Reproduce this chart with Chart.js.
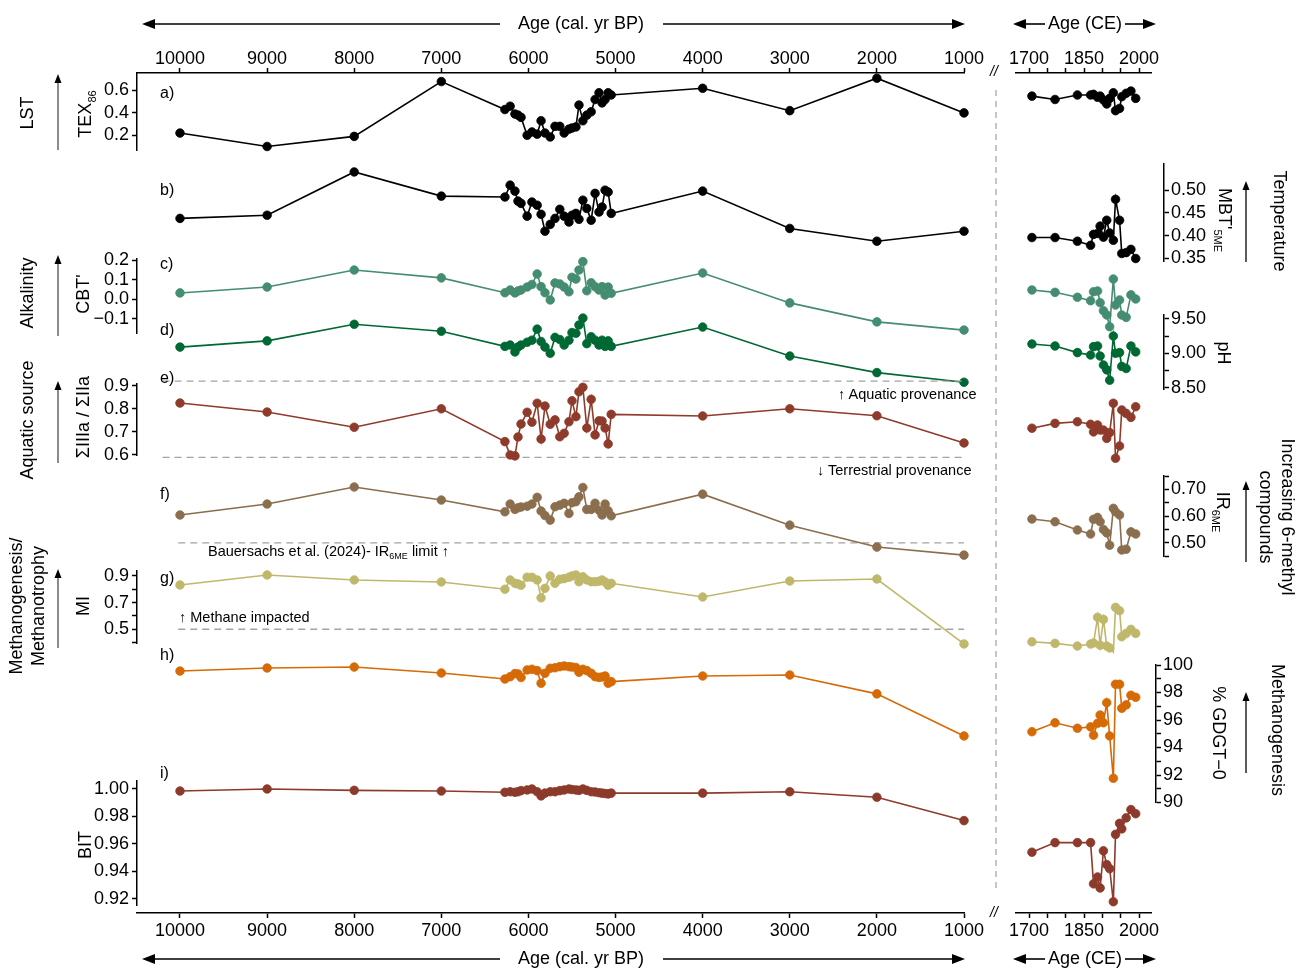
<!DOCTYPE html>
<html>
<head>
<meta charset="utf-8">
<title>GDGT proxy records – Holocene and last 300 years</title>
<script src="https://cdn.jsdelivr.net/npm/chart.js@4.4.1/dist/chart.umd.min.js"></script>
<style>
  html,body{margin:0;padding:0;background:#fff;}
  #fig{position:relative;width:1298px;height:968px;overflow:hidden;background:#fff;
       font-family:"Liberation Sans",Arial,Helvetica,sans-serif;color:#000;}
  #fig canvas{position:absolute;}
  #ov{position:absolute;left:0;top:0;z-index:2;}
  .t{position:absolute;white-space:nowrap;font-size:18px;line-height:1.2;z-index:3;}
  .l{transform:translate(-50%,-50%) rotate(-90deg);text-align:center;}
  .r{transform:translate(-50%,-50%) rotate(90deg);text-align:center;}
  .c{transform:translate(-50%,-50%);}
  .m{transform:translate(0,-50%);}
  .s{font-size:11px;position:relative;top:5px;}
  .note{font-size:14.5px;}
  .tag{font-size:16px;}
</style>
</head>
<body>
<div id="fig">
  <svg id="ov" width="1298" height="968"></svg>

  <!-- axis titles -->
  <div class="t c" style="left:581px;top:24px">Age (cal. yr BP)</div>
  <div class="t c" style="left:1085px;top:24px">Age (CE)</div>
  <div class="t c" style="left:581px;top:959px">Age (cal. yr BP)</div>
  <div class="t c" style="left:1085px;top:959px">Age (CE)</div>
  <div class="t c" style="left:994px;top:71px;font-size:14px;font-style:italic">//</div>
  <div class="t c" style="left:994px;top:912px;font-size:14px;font-style:italic">//</div>

  <!-- left-hand labels -->
  <div class="t l" style="left:28px;top:113px">LST</div>
  <div class="t l" style="left:86px;top:114px">TEX<span class="s">86</span></div>
  <div class="t l" style="left:28px;top:293px">Alkalinity</div>
  <div class="t l" style="left:84px;top:294px">CBT'</div>
  <div class="t l" style="left:28px;top:420px">Aquatic source</div>
  <div class="t l" style="left:84px;top:417px">ΣIIIa / ΣIIa</div>
  <div class="t l" style="left:27px;top:606px;line-height:22px">Methanogenesis/<br>Methanotrophy</div>
  <div class="t l" style="left:84px;top:606px">MI</div>
  <div class="t l" style="left:86px;top:845px">BIT</div>

  <!-- right-hand labels -->
  <div class="t r" style="left:1224px;top:220px">MBT'<span class="s">5ME</span></div>
  <div class="t r" style="left:1279px;top:221px">Temperature</div>
  <div class="t r" style="left:1223px;top:353px">pH</div>
  <div class="t r" style="left:1222px;top:512px">IR<span class="s">6ME</span></div>
  <div class="t r" style="left:1277px;top:517px;line-height:22px">Increasing 6-methyl<br>compounds</div>
  <div class="t r" style="left:1218px;top:733px">% GDGT−0</div>
  <div class="t r" style="left:1277px;top:730px">Methanogenesis</div>

  <!-- panel tags -->
  <div class="t m tag" style="left:160px;top:93px">a)</div>
  <div class="t m tag" style="left:160px;top:190px">b)</div>
  <div class="t m tag" style="left:160px;top:264px">c)</div>
  <div class="t m tag" style="left:160px;top:330px">d)</div>
  <div class="t m tag" style="left:160px;top:378px">e)</div>
  <div class="t m tag" style="left:160px;top:494px">f)</div>
  <div class="t m tag" style="left:160px;top:578px">g)</div>
  <div class="t m tag" style="left:160px;top:655px">h)</div>
  <div class="t m tag" style="left:160px;top:773px">i)</div>

  <!-- threshold notes -->
  <div class="t m note" style="left:838px;top:395px">↑ Aquatic provenance</div>
  <div class="t m note" style="left:817px;top:471px">↓ Terrestrial provenance</div>
  <div class="t m note" style="left:208px;top:552px">Bauersachs et al. (2024)- IR<span class="s" style="font-size:9px;top:3px">6ME</span> limit ↑</div>
  <div class="t m note" style="left:179px;top:618px">↑ Methane impacted</div>
</div>

<script>
// ---------------- sample ages ----------------
const agesBP = [10000, 9000, 8000, 7000,
  6270, 6210, 6155, 6120, 6085, 6015, 5960, 5900, 5855, 5810, 5750, 5695, 5640, 5590,
  5535, 5500, 5455, 5420, 5375, 5330, 5280, 5235, 5190, 5155, 5120, 5085, 5050,
  4000, 3000, 2000, 1000];
const agesCE = [1708, 1771, 1832, 1868, 1876, 1887, 1894, 1903, 1912, 1920, 1930, 1936, 1947, 1953, 1965, 1978, 1991];

// ---------------- proxy values (Holocene, cal. yr BP) ----------------
const tex86BP = [0.22, 0.10, 0.19, 0.68,
  0.43, 0.46, 0.39, 0.38, 0.36, 0.20, 0.23, 0.21, 0.33, 0.22, 0.185, 0.28, 0.28, 0.22,
  0.255, 0.265, 0.275, 0.47, 0.33, 0.38, 0.41, 0.52, 0.58, 0.49, 0.52, 0.58, 0.56,
  0.62, 0.42, 0.71, 0.40];
const mbtBP = [0.438, 0.445, 0.54, 0.487,
  0.485, 0.511, 0.498, 0.476, 0.471, 0.443, 0.474, 0.467, 0.447, 0.41, 0.425, 0.438, 0.458, 0.443,
  0.43, 0.445, 0.449, 0.436, 0.478, 0.46, 0.434, 0.493, 0.452, 0.463, 0.50, 0.496, 0.449,
  0.498, 0.416, 0.388, 0.41];
const cbtBP = [0.033, 0.063, 0.15, 0.11,
  0.034, 0.048, 0.033, 0.043, 0.048, 0.063, 0.076, 0.13, 0.065, 0.034, -0.003, 0.084, 0.079, 0.063,
  0.039, 0.113, 0.104, 0.15, 0.193, 0.044, 0.085, 0.065, 0.048, 0.065, 0.022, 0.063, 0.031,
  0.135, -0.018, -0.115, -0.157];
const phBP = [9.09, 9.18, 9.42, 9.32,
  9.10, 9.12, 9.02, 9.09, 9.12, 9.16, 9.19, 9.35, 9.17, 9.09, 9.00, 9.23, 9.20, 9.12,
  9.19, 9.30, 9.29, 9.41, 9.51, 9.14, 9.24, 9.19, 9.12, 9.19, 9.10, 9.18, 9.10,
  9.38, 8.96, 8.72, 8.58];
const iiiaBP = [0.825, 0.786, 0.72, 0.80,
  0.658, 0.60, 0.596, 0.678, 0.734, 0.785, 0.742, 0.824, 0.669, 0.812, 0.733, 0.752, 0.679, 0.694,
  0.744, 0.835, 0.766, 0.874, 0.893, 0.717, 0.841, 0.687, 0.748, 0.747, 0.717, 0.648, 0.776,
  0.769, 0.80, 0.77, 0.652];
const ir6meBP = [0.604, 0.645, 0.709, 0.66,
  0.616, 0.645, 0.625, 0.631, 0.634, 0.637, 0.645, 0.67, 0.619, 0.602, 0.585, 0.635, 0.641, 0.648,
  0.61, 0.65, 0.654, 0.672, 0.707, 0.625, 0.625, 0.648, 0.622, 0.604, 0.645, 0.62, 0.601,
  0.682, 0.566, 0.484, 0.454];
const miBP = [0.832, 0.907, 0.87, 0.855,
  0.80, 0.87, 0.845, 0.84, 0.83, 0.89, 0.89, 0.87, 0.736, 0.807, 0.90, 0.845, 0.875, 0.88,
  0.89, 0.90, 0.907, 0.857, 0.894, 0.87, 0.857, 0.857, 0.86, 0.87, 0.855, 0.83, 0.845,
  0.742, 0.862, 0.877, 0.39];
const gdgt0BP = [99.56, 99.78, 99.85, 99.42,
  98.98, 99.15, 99.38, 99.35, 99.09, 99.64, 99.69, 99.59, 98.67, 99.4, 99.76, 99.8, 99.88, 99.93,
  99.88, 99.85, 99.82, 99.47, 99.69, 99.59, 99.4, 99.15, 99.1, 99.13, 99.2, 98.67, 98.79,
  99.2, 99.27, 97.9, 94.84];
const bitBP = [0.9985, 1.0, 0.999, 0.9985,
  0.9976, 0.998, 0.9976, 0.998, 0.9988, 0.9993, 1.0, 0.998, 0.995, 0.997, 0.998, 0.998, 0.9988, 0.9993,
  1.0, 0.9996, 0.9993, 0.999, 1.0, 0.999, 0.998, 0.9978, 0.9973, 0.997, 0.9967, 0.9964, 0.997,
  0.997, 0.998, 0.994, 0.977];

// ---------------- proxy values (recent, CE) ----------------
const tex86CE = [0.55, 0.52, 0.56, 0.56, 0.566, 0.54, 0.55, 0.515, 0.48, 0.53, 0.58, 0.42, 0.44, 0.545, 0.575, 0.595, 0.53];
const mbtCE   = [0.396, 0.396, 0.388, 0.379, 0.403, 0.405, 0.421, 0.397, 0.434, 0.406, 0.39, 0.48, 0.434, 0.361, 0.363, 0.37, 0.35];
const cbtCE   = [0.048, 0.036, 0.011, -0.007, 0.039, 0.043, -0.017, -0.058, -0.08, -0.14, 0.104, -0.029, -0.003, -0.08, -0.092, 0.023, 0.002];
const phCE    = [9.135, 9.106, 9.01, 8.975, 9.096, 9.106, 8.96, 8.83, 8.76, 8.61, 9.25, 9.0, 9.01, 8.81, 8.78, 9.106, 9.02];
const iiiaCE  = [0.716, 0.737, 0.744, 0.733, 0.70, 0.73, 0.708, 0.708, 0.672, 0.697, 0.824, 0.586, 0.639, 0.795, 0.78, 0.763, 0.809];
const ir6meCE = [0.589, 0.579, 0.548, 0.533, 0.588, 0.595, 0.579, 0.55, 0.537, 0.491, 0.629, 0.616, 0.604, 0.473, 0.476, 0.541, 0.533];
const miCE    = [0.406, 0.394, 0.374, 0.389, 0.397, 0.59, 0.38, 0.574, 0.374, 0.36, 0.33, 0.664, 0.639, 0.444, 0.469, 0.499, 0.469];
const gdgt0CE = [95.15, 95.8, 95.4, 95.5, 94.9, 95.76, 96.36, 95.8, 97.26, 94.84, 91.76, 98.6, 98.6, 96.85, 97.1, 97.8, 97.65];
const bitCE   = [0.954, 0.961, 0.961, 0.961, 0.931, 0.936, 0.928, 0.955, 0.945, 0.942, 0.918, 0.967, 0.975, 0.971, 0.979, 0.985, 0.982];

// ---------------- tick values ----------------
const bpTicks = [10000, 9000, 8000, 7000, 6000, 5000, 4000, 3000, 2000, 1000];
const ceTicks = [1700, 1750, 1800, 1850, 1900, 1950, 2000];
const ceTickLabels = [1700, 1850, 2000];
const tex86Ticks = [0.2, 0.4, 0.6];
const mbtTicks = [0.35, 0.40, 0.45, 0.50];
const cbtTicks = [-0.1, 0.0, 0.1, 0.2];
const phTicks = [8.5, 8.75, 9.0, 9.25, 9.5];
const phTickLabels = [8.5, 9.0, 9.5];
const iiiaTicks = [0.6, 0.7, 0.8, 0.9];
const ir6meTicks = [0.45, 0.50, 0.55, 0.60, 0.65, 0.70, 0.75];
const ir6meTickLabels = [0.50, 0.60, 0.70];
const miTicks = [0.4, 0.5, 0.6, 0.7, 0.8, 0.9];
const miTickLabels = [0.5, 0.7, 0.9];
const gdgt0Ticks = [90, 91, 92, 93, 94, 95, 96, 97, 98, 99, 100];
const gdgt0TickLabels = [90, 92, 94, 96, 98, 100];
const bitTicks = [0.92, 0.94, 0.96, 0.98, 1.00];

// ---------------- reference thresholds ----------------
const iiiaAquatic = 0.92;      // ΣIIIa/ΣIIa above: aquatic provenance
const iiiaTerrestrial = 0.59;  // ΣIIIa/ΣIIa below: terrestrial provenance
const ir6meLimit = 0.50;       // Bauersachs et al. (2024)
const miLimit = 0.50;          // methane impacted above

// =====================================================================
Chart.defaults.font.family = '"Liberation Sans", Arial, Helvetica, sans-serif';
Chart.defaults.font.size = 18;
Chart.defaults.color = '#000';
Chart.defaults.animation = false;
Chart.defaults.events = [];
Chart.defaults.plugins.legend.display = false;
Chart.defaults.plugins.tooltip.enabled = false;

const fig = document.getElementById('fig');
const ov = document.getElementById('ov');

function addCanvas(left, top, w, h) {
  const cv = document.createElement('canvas');
  cv.width = w; cv.height = h;
  cv.style.left = left + 'px'; cv.style.top = top + 'px';
  cv.style.width = w + 'px'; cv.style.height = h + 'px';
  fig.insertBefore(cv, ov);
  return cv;
}

const axisBorder = {display: true, color: '#000', width: 1.5};
const tickGrid = {display: true, drawOnChartArea: false, drawTicks: true,
                  tickLength: 5, tickWidth: 1.5, tickColor: '#000'};
const hasLabel = (list, v) => list.some(l => Math.abs(l - v) < 1e-6);

// horizontal layout of the two age axes
const BP_PX = 784 / 9000;              // px per year on the Holocene axis
const L_AREA = [137, 964];             // plot area, Holocene block
const bpMax = 10000 + (180 - L_AREA[0]) / BP_PX;
const CE_PX = 110 / 300, CE0 = 1029;   // px per year and position of 1700 CE
const ceAt = px => 1700 + (px - CE0) / CE_PX;
const R_AREA = [1016, 1151];

// vertical band, value range and axis of each panel
const panels = [
  {top: 73.4,  bottom: 150.4, min: 0.065,  max: 0.753,  axis: 'L', ticks: tex86Ticks, labels: tex86Ticks,
   fmt: v => v.toFixed(1), color: '#000000', bp: tex86BP, ce: tex86CE},
  {top: 163.3, bottom: 261.7, min: 0.343,  max: 0.559,  axis: 'R', axisX: 1164, ticks: mbtTicks, labels: mbtTicks,
   fmt: v => v.toFixed(2), color: '#000000', bp: mbtBP, ce: mbtCE},
  {top: 258.7, bottom: 333.6, min: -0.175, max: 0.208,  axis: 'L', ticks: cbtTicks, labels: cbtTicks,
   fmt: v => (v < -1e-9 ? '\u2212' : '') + Math.abs(v).toFixed(1), color: '#458d70', bp: cbtBP, ce: cbtCE},
  {top: 315,   bottom: 389.3, min: 8.478,  max: 9.555,  axis: 'R', axisX: 1164, ticks: phTicks, labels: phTickLabels,
   fmt: v => v.toFixed(2), color: '#006833', bp: phBP, ce: phCE},
  {top: 383.7, bottom: 455.8, min: 0.5965, max: 0.9087, axis: 'L', ticks: iiiaTicks, labels: iiiaTicks,
   fmt: v => v.toFixed(1), color: '#8e3b2c', bp: iiiaBP, ce: iiiaCE,
   lines: [{from: 10200, y: iiiaAquatic}, {from: 10200, y: iiiaTerrestrial}]},
  {top: 476,   bottom: 556.7, min: 0.448,  max: 0.75,   axis: 'R', axisX: 1164, ticks: ir6meTicks, labels: ir6meTickLabels,
   fmt: v => v.toFixed(2), color: '#8b6e4d', bp: ir6meBP, ce: ir6meCE,
   lines: [{from: 10020, y: ir6meLimit}]},
  {top: 571,   bottom: 643,   min: 0.397,  max: 0.937,  axis: 'L', ticks: miTicks, labels: miTickLabels,
   fmt: v => v.toFixed(1), color: '#bfb86b', bp: miBP, ce: miCE,
   lines: [{from: 10020, y: miLimit}]},
  {top: 665,   bottom: 802.5, min: 90,     max: 100,    axis: 'R', axisX: 1156, ticks: gdgt0Ticks, labels: gdgt0TickLabels,
   fmt: v => v.toFixed(0), color: '#d56a06', bp: gdgt0BP, ce: gdgt0CE},
  {top: 781,   bottom: 905,   min: 0.9156, max: 1.0058, axis: 'L', ticks: bitTicks, labels: bitTicks,
   fmt: v => v.toFixed(2), color: '#8c3a2b', bp: bitBP, ce: bitCE}
];

function series(xs, ys, color) {
  return {data: xs.map((x, i) => ({x: x, y: ys[i]})), borderColor: color, backgroundColor: color,
          borderWidth: 1.6, pointRadius: 4.3, pointBorderWidth: 0.8, pointBorderColor: color,
          pointBackgroundColor: color, tension: 0, clip: false, spanGaps: true};
}
function threshold(x1, x2, y) {
  return {data: [{x: x1, y: y}, {x: x2, y: y}], borderColor: '#a3a3a3', borderWidth: 1.3,
          borderDash: [7, 5], pointRadius: 0, tension: 0, clip: false};
}

function panelChart(side, p) {
  const isL = side === 'L';
  const cl = isL ? 0 : 1000, cw = isL ? 1000 : 298;
  const hasAxis = p.axis === side;
  const aL = isL ? L_AREA[0] : R_AREA[0];
  const aR = isL ? L_AREA[1] : (hasAxis ? p.axisX : R_AREA[1]);
  const ct = Math.floor(p.top) - 24;
  const ch = Math.ceil(p.bottom) + 24 - ct;
  const cv = addCanvas(cl, ct, cw, ch);
  const ds = [series(isL ? agesBP : agesCE, isL ? p.bp : p.ce, p.color)];
  if (isL && p.lines) p.lines.forEach(l => ds.push(threshold(l.from, 1000, l.y)));
  const yScale = {type: 'linear', display: hasAxis, position: isL ? 'left' : 'right',
                  min: p.min, max: p.max};
  if (hasAxis) {
    Object.assign(yScale, {
      afterFit: s => { s.width = isL ? aL - cl : cl + cw - aR; },
      afterBuildTicks: s => { s.ticks = p.ticks.map(v => ({value: v})); },
      ticks: {padding: isL ? 3 : 2, autoSkip: false, font: {size: 18}, color: '#000',
              callback: v => hasLabel(p.labels, v) ? p.fmt(v) : ''},
      grid: tickGrid, border: axisBorder
    });
  }
  new Chart(cv, {
    type: 'line',
    data: {datasets: ds},
    options: {
      responsive: false,
      layout: {padding: {top: p.top - ct, bottom: ct + ch - p.bottom,
                         left: (isL && hasAxis) ? 0 : aL - cl,
                         right: (!isL && hasAxis) ? 0 : cl + cw - aR}},
      scales: {
        x: {type: 'linear', display: false, reverse: isL,
            min: isL ? 1000 : ceAt(aL), max: isL ? bpMax : ceAt(aR)},
        y: yScale
      }
    }
  });
}

function axisChart(o) {
  const size = 60, area = 8;
  const ct = o.pos === 'top' ? o.lineY - size : o.lineY - area;
  const cv = addCanvas(o.cl, ct, o.cw, size + area);
  new Chart(cv, {
    type: 'line',
    data: {datasets: []},
    options: {
      responsive: false,
      layout: {padding: {top: 0, bottom: 0, left: o.aL - o.cl, right: o.cl + o.cw - o.aR}},
      scales: {
        x: {type: 'linear', position: o.pos, min: o.min, max: o.max, reverse: !!o.reverse,
            afterFit: s => { s.height = size; },
            afterBuildTicks: s => { s.ticks = o.ticks.map(v => ({value: v})); },
            ticks: {padding: o.pad, autoSkip: false, maxRotation: 0, minRotation: 0,
                    font: {size: 18, lineHeight: 1}, color: '#000',
                    callback: v => hasLabel(o.labels, v) ? String(v) : ''},
            grid: tickGrid, border: axisBorder},
        y: {display: false, min: 0, max: 1}
      }
    }
  });
}

// age axes, top and bottom
[['top', 73, 0], ['bottom', 913, 4]].forEach(([pos, y, pad]) => {
  axisChart({cl: 0, cw: 1000, aL: L_AREA[0], aR: L_AREA[1], lineY: y, pos: pos, pad: pad,
             min: 1000, max: bpMax, reverse: true, ticks: bpTicks, labels: bpTicks});
  axisChart({cl: 1000, cw: 298, aL: R_AREA[0], aR: R_AREA[1], lineY: y, pos: pos, pad: pad,
             min: ceAt(R_AREA[0]), max: ceAt(R_AREA[1]), ticks: ceTicks, labels: ceTickLabels});
});

// proxy panels
panels.forEach(p => { panelChart('L', p); panelChart('R', p); });

// ---------------- arrows and separators ----------------
const NS = 'http://www.w3.org/2000/svg';
function svgEl(tag, attrs) {
  const e = document.createElementNS(NS, tag);
  for (const k in attrs) e.setAttribute(k, attrs[k]);
  ov.appendChild(e);
  return e;
}
function arrow(x1, y1, x2, y2, shaft, len, half) {
  const dx = x2 - x1, dy = y2 - y1, d = Math.hypot(dx, dy);
  const ux = dx / d, uy = dy / d;
  const bx = x2 - ux * len, by = y2 - uy * len;
  svgEl('line', {x1: x1, y1: y1, x2: bx + ux * 2, y2: by + uy * 2, stroke: shaft, 'stroke-width': 1.6});
  svgEl('polygon', {points: `${x2},${y2} ${bx - uy * half},${by + ux * half} ${bx + uy * half},${by - ux * half}`,
                    fill: '#000'});
}
[24, 959].forEach(y => {
  arrow(500, y, 142, y, '#000', 13, 5);
  arrow(663, y, 965, y, '#000', 13, 5);
  arrow(1045, y, 1013, y, '#000', 13, 5);
  arrow(1125, y, 1156, y, '#000', 13, 5);
});
[[150, 74], [336, 255], [463, 381], [648, 569]].forEach(([a, b]) => arrow(58, a, 58, b, '#6e6e6e', 9, 3.5));
[[262, 181], [562, 481], [773, 692]].forEach(([a, b]) => arrow(1246, a, 1246, b, '#333', 9, 3.5));
svgEl('line', {x1: 996, y1: 90, x2: 996, y2: 892, stroke: '#a8a8a8', 'stroke-width': 1.3,
               'stroke-dasharray': '6 5'});
</script>
</body>
</html>
